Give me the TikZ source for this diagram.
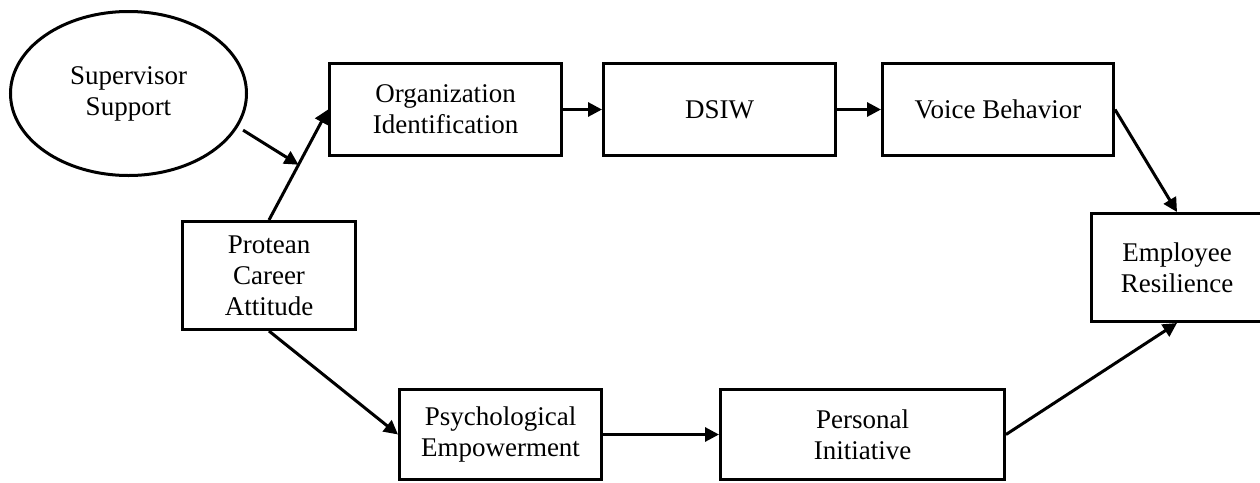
\documentclass[tikz,border=0pt]{standalone}
\usepackage{fontspec}
\setmainfont{Liberation Serif}
\usetikzlibrary{arrows.meta,shapes.geometric}

\tikzset{
  box/.style={rectangle, draw, align=center, inner sep=2pt},
  oval/.style={ellipse, draw, align=center, inner sep=2pt},
  >={Triangle[length=14pt,width=14pt]}
}

\begin{document}
\begin{tikzpicture}[x=1pt,y=-1pt,line width=3pt,font=\fontsize{27}{31}\selectfont]
  \useasboundingbox (0,0) rectangle (1260,482);
  \node[oval, minimum width=236pt, minimum height=164pt] (sup) at (128.5,93.5) {Supervisor\\Support};
  \node[box, minimum width=232pt, minimum height=92pt] (org) at (445.5,109.5) {Organization\\Identification};
  \node[box, minimum width=232pt, minimum height=92pt] (dsiw) at (719.5,109.5) {DSIW};
  \node[box, minimum width=231pt, minimum height=92pt] (voice) at (998,109.5) {Voice Behavior};
  \node[box, minimum width=173pt, minimum height=108pt] (pca) at (269,275.5) {Protean\\Career\\Attitude};
  \node[box, minimum width=171pt, minimum height=108pt] (res) at (1177,267.5) {Employee\\Resilience};
  \node[box, minimum width=202pt, minimum height=90pt] (psy) at (500.5,434.5) {Psychological\\Empowerment};
  \node[box, minimum width=284pt, minimum height=90pt] (ini) at (862.5,434.5) {Personal\\Initiative};
  \draw[->] (pca.north) -- coordinate[pos=0.5] (mid) (org.west);
  \draw[->, shorten <=6pt] (sup.-17) -- (mid);
  \draw[->] (org) -- (dsiw);
  \draw[->] (dsiw) -- (voice);
  \draw[->] (voice.east) -- (res.north);
  \draw[->] (pca.south) -- (psy.west);
  \draw[->] (psy) -- (ini);
  \draw[->] (ini.east) -- (res.south);
\end{tikzpicture}
\end{document}
